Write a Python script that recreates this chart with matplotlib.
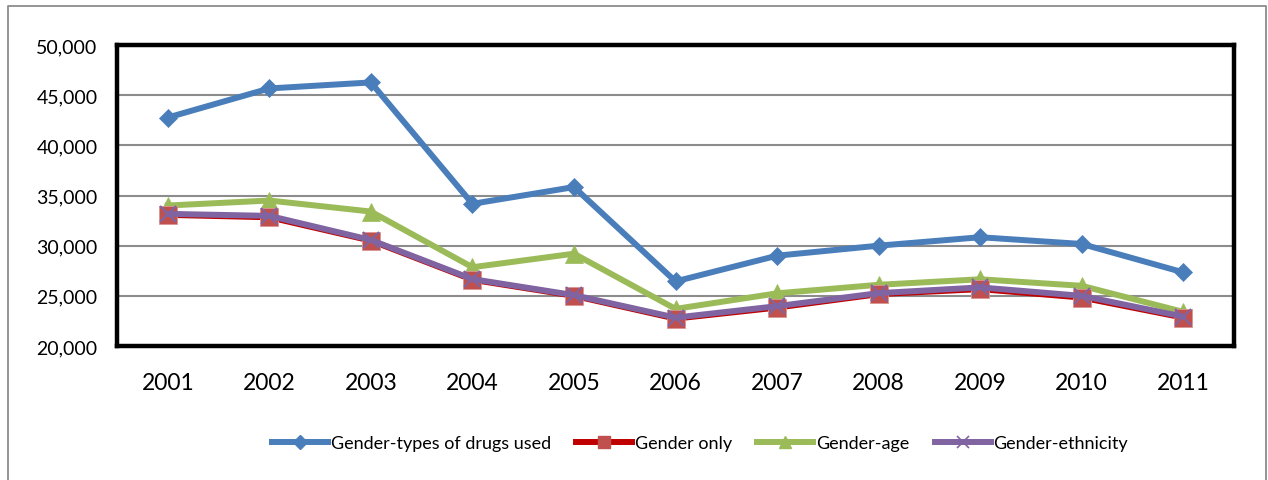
import matplotlib

matplotlib.use("Agg")
import matplotlib.pyplot as plt
from matplotlib.lines import Line2D

# Data
years = ["2001", "2002", "2003", "2004", "2005", "2006", "2007", "2008", "2009", "2010", "2011"]
drug_types = [42770, 45670, 46270, 34170, 35840, 26440, 29000, 30000, 30840, 30170, 27340]
gender_only = [33070, 32830, 30500, 26600, 25000, 22730, 23830, 25170, 25670, 24830, 22830]
gender_age = [34000, 34500, 33400, 27850, 29200, 23700, 25250, 26100, 26650, 26000, 23400]
gender_ethnicity = [33170, 32970, 30570, 26670, 25070, 22830, 23970, 25270, 25840, 25000, 22930]
y_ticks = [20000, 25000, 30000, 35000, 40000, 45000, 50000]

plt.rcParams["font.family"] = ["Lato", "DejaVu Sans"]

fig = plt.figure(figsize=(12.68, 4.81), dpi=100)
ax = fig.add_axes([117 / 1268, 1 - 347 / 481, 1117 / 1268, 301 / 481])

x = list(range(len(years)))

# Excel-like series styles
ax.plot(x, drug_types, color="#4A7EBB", lw=4.3, marker="D", ms=9.5,
        mfc="#4A7EBB", mec="#4A7EBB", mew=0.5, zorder=3)
ax.plot(x, gender_only, color="#C00000", lw=4.3, marker="s", ms=13,
        mfc="#C0504D", mec="#D99694", mew=0.6, zorder=4)
ax.plot(x, gender_age, color="#9BBB59", lw=4.3, marker="^", ms=13,
        mfc="#9BBB59", mec="#9BBB59", mew=0.5, zorder=3)
ax.plot(x, gender_ethnicity, color="#8064A2", lw=4.3, marker="x", ms=12,
        mec="#8064A2", mew=1.5, zorder=5)

ax.set_xlim(-0.5, len(years) - 0.5)
ax.set_ylim(20000, 50000)
ax.set_yticks(y_ticks)
ax.set_yticklabels([f"{v:,}" for v in y_ticks], fontsize=14)
ax.set_xticks(x)
ax.set_xticklabels(years, fontsize=16.5)
ax.tick_params(axis="both", length=0)
ax.tick_params(axis="y", pad=14)
ax.tick_params(axis="x", pad=19)

ax.grid(axis="y", color="#8C8C8C", lw=1.5, zorder=1)
ax.set_axisbelow(True)
for s in ax.spines.values():
    s.set_color("black")
    s.set_linewidth(3.2)

# Legend at the bottom
handles = [
    Line2D([], [], color="#4A7EBB", lw=4.3, marker="D", ms=7, mfc="#4A7EBB", mec="#4A7EBB"),
    Line2D([], [], color="#C00000", lw=4.3, marker="s", ms=9, mfc="#C0504D", mec="#C0504D"),
    Line2D([], [], color="#9BBB59", lw=4.3, marker="^", ms=9, mfc="#9BBB59", mec="#9BBB59"),
    Line2D([], [], color="#8064A2", lw=4.3, marker="x", ms=8, mec="#8064A2", mew=1.2),
]
labels = ["Gender-types of drugs used", "Gender only", "Gender-age", "Gender-ethnicity"]
fig.legend(handles, labels, loc="center", bbox_to_anchor=(700 / 1268, 1 - 444 / 481),
           ncol=4, frameon=False, fontsize=13, handlelength=3.1, handletextpad=0.15,
           columnspacing=1.4)

# Outer chart border (bottom edge is cut off in the original)
fig.add_artist(Line2D([8 / 1268, 8 / 1268, 1266 / 1268, 1266 / 1268],
                      [0, 1 - 7 / 481, 1 - 7 / 481, 0],
                      transform=fig.transFigure, color="#8C8C8C", lw=1.3))

fig.savefig("out.png", dpi=100)
